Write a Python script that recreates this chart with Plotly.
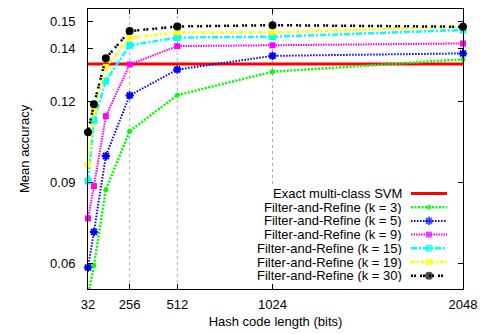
import plotly.graph_objects as go

hash_bits = [32, 64, 128, 256, 512, 1024, 2048]
svm_acc = 0.1341
acc_k3 = [0.0479, 0.0593, 0.0874, 0.1091, 0.1225, 0.1312, 0.1358]
acc_k5 = [0.0585, 0.0717, 0.0999, 0.1224, 0.1320, 0.1371, 0.1380]
acc_k9 = [0.0767, 0.0887, 0.1147, 0.1339, 0.1407, 0.1410, 0.1417]
acc_k15 = [0.0906, 0.1132, 0.1278, 0.1410, 0.1439, 0.1442, 0.1467]
acc_k19 = [0.0967, 0.1170, 0.1330, 0.1438, 0.1458, 0.1458, 0.1480]
acc_k30 = [0.1087, 0.1191, 0.1362, 0.1463, 0.1480, 0.1485, 0.1479]
x_ticks = [32, 256, 512, 1024, 2048]
y_ticks = [0.06, 0.09, 0.12, 0.14, 0.15]

FONT = "Liberation Sans, Arial, sans-serif"

series = [
    ("Filter-and-Refine (k = 3)", acc_k3, "#00ff00", "2px,1.5px", 2.5, "circle", 5),
    ("Filter-and-Refine (k = 5)", acc_k5, "#0000ff", "1.5px,1.5px", 2.0, "asterisk-open", 7),
    ("Filter-and-Refine (k = 9)", acc_k9, "#ff00ff", "1.5px,1px", 2.0, "square", 6),
    ("Filter-and-Refine (k = 15)", acc_k15, "#00ffff", "6px,2px,2px,2px", 2.5, "square", 7),
    ("Filter-and-Refine (k = 19)", acc_k19, "#ffff00", "4px,2px,1.5px,2px", 2.5, "square", 6),
    ("Filter-and-Refine (k = 30)", acc_k30, "#000000", "2px,1px,2px,4px", 2.5, "circle", 8),
]

fig = go.Figure()

# page body has an 8px margin: figure is sized so it ends at the window edge
OFF = 8
W, H = 487 - OFF, 334 - OFF
# plot-area geometry in page pixels
PX0, PX1, PY0, PY1 = 88, 463, 9, 289
def fx(px):
    return (px - PX0) / (PX1 - PX0)
def fy(py):
    return (PY1 - py) / (PY1 - PY0)

# vertical dotted grid lines (the 1024 one stops above the legend box)
for xv in x_ticks[1:-1]:
    fig.add_shape(type="line", xref="x", yref="y domain", x0=xv, x1=xv,
                  y0=fy(184) if xv >= 1024 else 0, y1=1,
                  line=dict(color="#b0b0b0", width=1, dash="dot"), layer="below")

fig.add_trace(go.Scatter(x=[hash_bits[0], hash_bits[-1]], y=[svm_acc, svm_acc], mode="lines",
                         line=dict(color="#ff0000", width=3), showlegend=False))

for name, vals, col, dash, w, sym, sz in series:
    mline = dict(width=2, color=col) if sym == "asterisk-open" else dict(width=0)
    fig.add_trace(go.Scatter(x=hash_bits, y=vals, mode="lines+markers",
                             line=dict(color=col, width=w, dash=dash),
                             marker=dict(symbol=sym, size=sz, color=col, line=mline),
                             showlegend=False, cliponaxis=False))

# legend (text right-aligned, sample on the right)
legend_names = ["Exact multi-class SVM"] + [s[0] for s in series]
row_y = [193.5, 207.2, 220.9, 234.6, 248.3, 262.0, 275.7]
for i, nm in enumerate(legend_names):
    fig.add_annotation(x=fx(402.5), y=fy(row_y[i]), xref="x domain", yref="y domain", text=nm,
                       showarrow=False, xanchor="right", yanchor="middle", height=13,
                       borderpad=0, font=dict(family=FONT, size=13, color="black"))
    if i == 0:
        fig.add_trace(go.Scatter(x=[fx(411), fx(447)], y=[fy(row_y[i])] * 2, xaxis="x2", yaxis="y2",
                                 mode="lines", line=dict(color="#ff0000", width=3), showlegend=False))
    else:
        _, _, col, dash, w, sym, sz = series[i - 1]
        mline = dict(width=2, color=col) if sym == "asterisk-open" else dict(width=0)
        fig.add_trace(go.Scatter(x=[fx(411), fx(429), fx(447)], y=[fy(row_y[i])] * 3,
                                 xaxis="x2", yaxis="y2", mode="lines+markers",
                                 line=dict(color=col, width=w, dash=dash),
                                 marker=dict(symbol=sym, size=[0, sz, 0], color=col, line=mline),
                                 showlegend=False))

# y-axis title placed as a rotated annotation
fig.add_annotation(x=fx(24), y=0.5, xref="paper", yref="paper", text="Mean accuracy",
                   textangle=-90, showarrow=False, xanchor="center", yanchor="middle",
                   font=dict(family=FONT, size=13, color="black"))

axis_common = dict(showline=True, linecolor="black", linewidth=1, mirror="ticks",
                   ticks="inside", ticklen=5, tickcolor="black", zeroline=False, showgrid=False,
                   tickfont=dict(family=FONT, size=13, color="black"))

fig.update_layout(
    width=W, height=H,
    margin=dict(l=PX0 - OFF, r=487 - PX1, t=PY0 - OFF, b=334 - PY1),
    plot_bgcolor="white", paper_bgcolor="white",
    font=dict(family=FONT, size=13, color="black"),
    xaxis=dict(range=[32, 2048], tickvals=x_ticks, ticktext=[str(v) for v in x_ticks],
               title=dict(text="Hash code length (bits)", standoff=6,
                          font=dict(family=FONT, size=13)),
               ticklabelstandoff=3, **axis_common),
    yaxis=dict(range=[0.0505, 0.1545], tickvals=y_ticks, ticktext=[f"{v:.2f}" for v in y_ticks],
               ticklabelstandoff=9, **axis_common),
    xaxis2=dict(overlaying="x", range=[0, 1], visible=False),
    yaxis2=dict(overlaying="y", range=[0, 1], visible=False),
)

fig.write_html("out.html")
